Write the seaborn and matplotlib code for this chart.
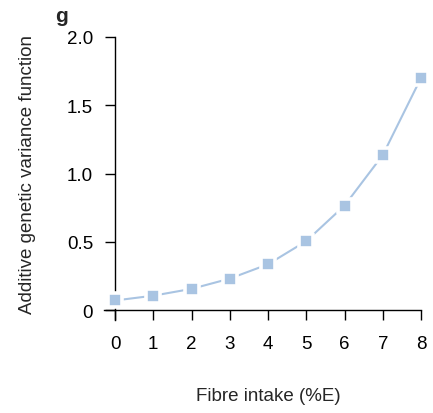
import matplotlib
matplotlib.use("Agg")
import matplotlib.pyplot as plt
import seaborn as sns
import pandas as pd

fibre_intake = [0, 1, 2, 3, 4, 5, 6, 7, 8]
variance_fn = [0.07, 0.105, 0.155, 0.23, 0.335, 0.505, 0.765, 1.135, 1.70]
x_ticks = [0, 1, 2, 3, 4, 5, 6, 7, 8]
y_ticks = [0, 0.5, 1.0, 1.5, 2.0]
y_tick_labels = ["0", "0.5", "1.0", "1.5", "2.0"]

sns.set_style("white")
plt.rcParams['font.family'] = ['Liberation Sans', 'DejaVu Sans']

df = pd.DataFrame({"x": fibre_intake, "y": variance_fn})
color = "#a9c4e2"

fig = plt.figure(figsize=(4.33, 4.14), dpi=100)
ax = fig.add_axes([104/433, (414-321)/414, (421-104)/433, (321-38)/414])

sns.lineplot(data=df, x="x", y="y", ax=ax, color=color, linewidth=1.5, zorder=2)
sns.scatterplot(data=df, x="x", y="y", ax=ax, color=color, marker="s", s=100,
                edgecolor="white", linewidth=2.6, zorder=3, clip_on=False)

ax.set_xlim(-0.288, 8)
ax.set_ylim(-0.073, 2.0)
ax.spines['right'].set_visible(False)
ax.spines['top'].set_visible(False)
ax.spines['left'].set_position(('data', 0))
ax.spines['bottom'].set_position(('data', 0))
for s in ['left', 'bottom']:
    ax.spines[s].set_color('black')
    ax.spines[s].set_linewidth(1.0)

ax.set_xticks(x_ticks)
ax.set_xticklabels([str(v) for v in x_ticks])
ax.set_yticks(y_ticks)
ax.set_yticklabels(y_tick_labels)
ax.tick_params(axis='x', direction='out', length=7.2, width=1.0, pad=11, labelsize=13.5, colors='black', bottom=True)
ax.tick_params(axis='y', direction='out', length=7.2, width=1.0, pad=8.5, labelsize=13.5, colors='black', left=True)
ax.set_xlabel("")
ax.set_ylabel("")

fig.text(268/433, 1 - 397/414, "Fibre intake (%E)", ha='center', va='center', fontsize=13.5)
fig.text(28/433, 1 - 174/414, "Additive genetic variance function", ha='center', va='center',
         rotation=90, fontsize=13.5)
fig.text(61/433, 1 - 17/414, "g", ha='center', va='center', fontsize=15, fontweight='bold')

fig.savefig("out.png", dpi=100)
